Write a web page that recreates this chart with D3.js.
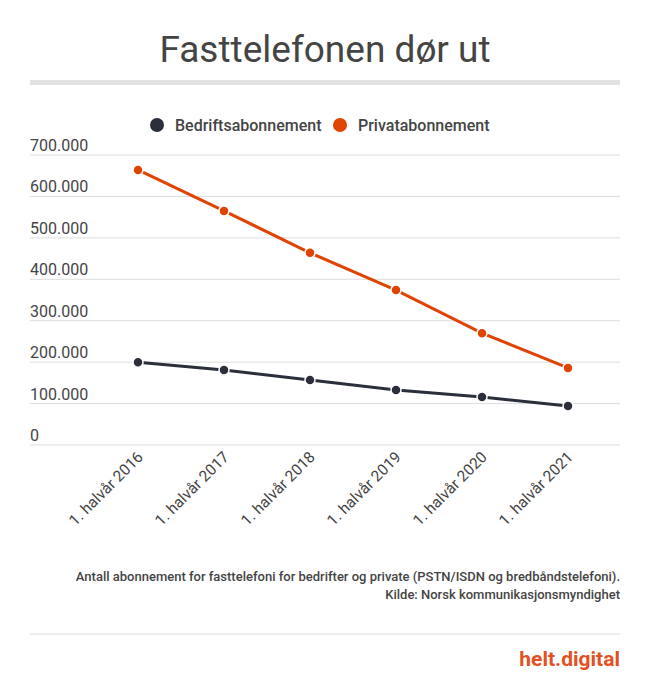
<!DOCTYPE html>
<html>
<head>
<meta charset="utf-8">
<script src="https://cdn.jsdelivr.net/npm/d3@7"></script>
<style>
body { margin: 0; background: #fff; font-family: Roboto, sans-serif; }
</style>
</head>
<body>
<div id="chart"></div>
<script>
var periods = ["1. halvår 2016", "1. halvår 2017", "1. halvår 2018", "1. halvår 2019", "1. halvår 2020", "1. halvår 2021"];
var bedrift = [200000, 181000, 157000, 133000, 116000, 94000];
var privat = [664000, 565000, 464000, 374000, 270000, 186000];
var yTicks = [0, 100000, 200000, 300000, 400000, 500000, 600000, 700000];

var svgWidth = 650, svgHeight = 685;
var plotLeft = 30, plotRight = 620, plotTop = 155, plotBottom = 445;

var svg = d3.select("#chart").append("svg")
  .attr("width", svgWidth).attr("height", svgHeight);

svg.append("text").attr("x", 325).attr("y", 62).attr("text-anchor", "middle")
  .attr("font-size", 37).attr("fill", "#444").text("Fasttelefonen dør ut");
svg.append("rect").attr("x", 30).attr("y", 80).attr("width", 590).attr("height", 5).attr("fill", "#e2e2e2");

var x = d3.scalePoint().domain(periods).range([138, 568]);
var y = d3.scaleLinear().domain([0, 700000]).range([plotBottom, plotTop]);
var fmt = d => d3.format(",")(d).replace(/,/g, ".");

var grid = svg.append("g");
yTicks.forEach(function(t) {
  grid.append("line").attr("x1", plotLeft).attr("x2", plotRight)
    .attr("y1", y(t)).attr("y2", y(t)).attr("stroke", "#ddd");
  grid.append("text").attr("x", plotLeft).attr("y", y(t) - 4)
    .attr("font-size", 16).attr("fill", "#444").text(fmt(t));
});

periods.forEach(function(p) {
  svg.append("text")
    .attr("transform", `translate(${x(p) + 6}, 458) rotate(-45)`)
    .attr("text-anchor", "end").attr("font-size", 15.5).attr("fill", "#444").text(p);
});

var series = [
  { name: "Bedriftsabonnement", values: bedrift, color: "#2b2f3b" },
  { name: "Privatabonnement", values: privat, color: "#e04403" }
];
var line = d3.line().x((d, i) => x(periods[i])).y(d => y(d));
series.forEach(function(s) {
  svg.append("path").attr("d", line(s.values)).attr("fill", "none")
    .attr("stroke", s.color).attr("stroke-width", 3);
  svg.selectAll(null).data(s.values).enter().append("circle")
    .attr("cx", (d, i) => x(periods[i])).attr("cy", d => y(d)).attr("r", 5)
    .attr("fill", s.color).attr("stroke", "#fff").attr("stroke-width", 1.5);
});

var lx = [157, 340];
series.forEach(function(s, i) {
  svg.append("circle").attr("cx", lx[i]).attr("cy", 125).attr("r", 7).attr("fill", s.color);
  svg.append("text").attr("x", lx[i] + 18).attr("y", 130.5).attr("font-size", 16)
    .attr("font-weight", 500).attr("fill", "#444").text(s.name);
});

svg.append("text").attr("x", 620).attr("y", 581).attr("text-anchor", "end")
  .attr("font-size", 13).attr("font-weight", 500).attr("fill", "#444")
  .text("Antall abonnement for fasttelefoni for bedrifter og private (PSTN/ISDN og bredbåndstelefoni).");
svg.append("text").attr("x", 620).attr("y", 599).attr("text-anchor", "end")
  .attr("font-size", 13).attr("font-weight", 500).attr("fill", "#444")
  .text("Kilde: Norsk kommunikasjonsmyndighet");
svg.append("line").attr("x1", 30).attr("x2", 620).attr("y1", 634).attr("y2", 634).attr("stroke", "#ddd");
svg.append("text").attr("x", 620).attr("y", 666).attr("text-anchor", "end")
  .attr("font-size", 21).attr("font-weight", "bold").attr("fill", "#e4501f").text("helt.digital");
</script>
</body>
</html>
